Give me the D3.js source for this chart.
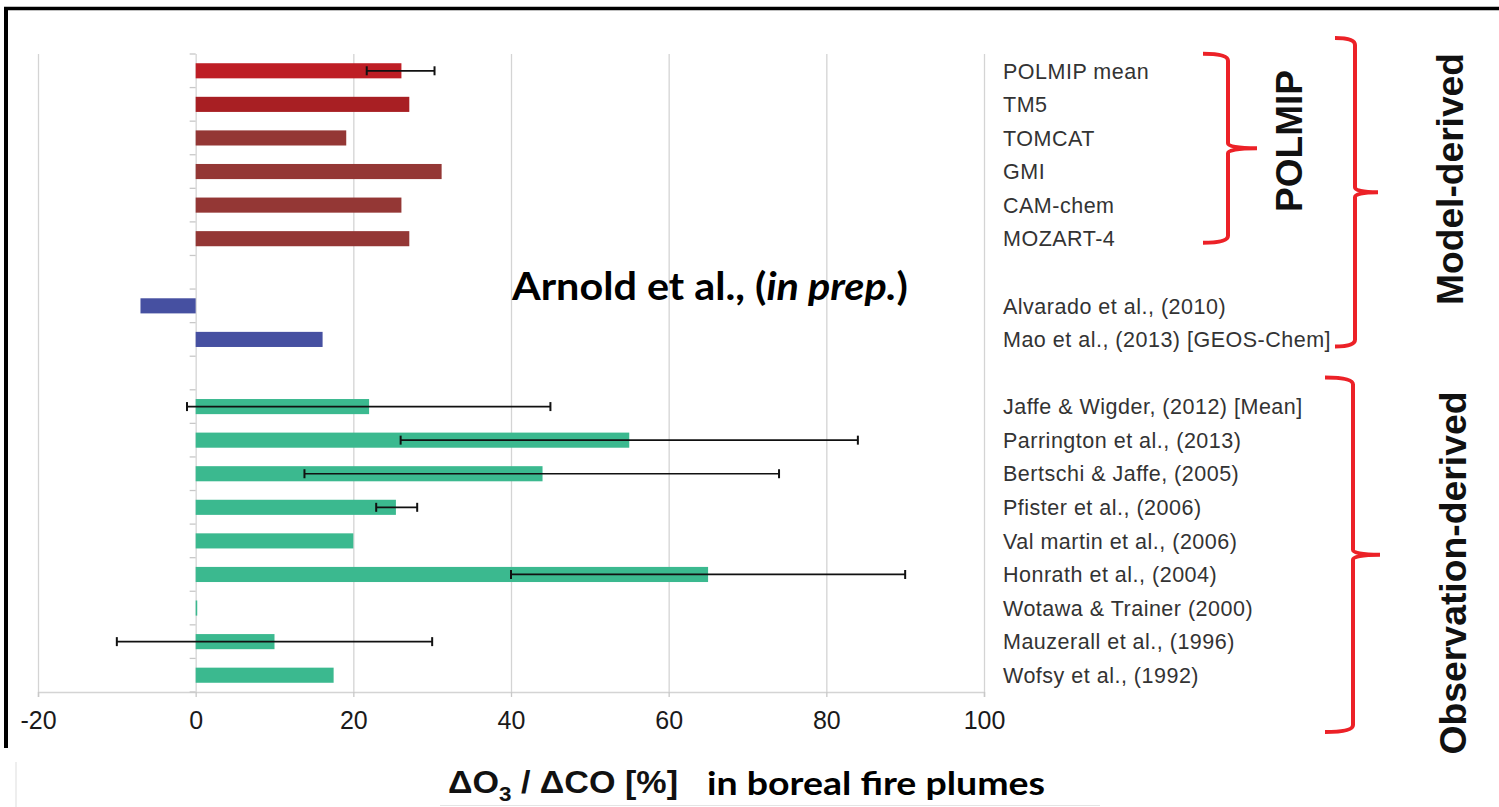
<!DOCTYPE html>
<html>
<head>
<meta charset="utf-8">
<script src="https://cdn.jsdelivr.net/npm/d3@7"></script>
<style>
  body { margin: 0; background: #fff; }
  svg { display: block; }
</style>
</head>
<body>
<div id="chart-container"></div>
<script>
// rows top to bottom, "" = empty spacer row
const labels = [
  "POLMIP mean", "TM5", "TOMCAT", "GMI", "CAM-chem", "MOZART-4", "",
  "Alvarado et al., (2010)", "Mao et al., (2013) [GEOS-Chem]", "",
  "Jaffe & Wigder, (2012) [Mean]", "Parrington et al., (2013)", "Bertschi & Jaffe, (2005)",
  "Pfister et al., (2006)", "Val martin et al., (2006)", "Honrath et al., (2004)",
  "Wotawa & Trainer (2000)", "Mauzerall et al., (1996)", "Wofsy et al., (1992)"
];
const groups = [
  "mean", "tm5", "model", "model", "model", "model", "",
  "other", "other", "",
  "obs", "obs", "obs", "obs", "obs", "obs", "obs", "obs", "obs"
];
const values = [
  26.1, 27.1, 19.1, 31.2, 26.1, 27.1, null,
  -7.0, 16.1, null,
  22.0, 55.0, 44.0, 25.4, 20.0, 65.0, 0.2, 10.0, 17.5
];
const errLow = [
  21.7, null, null, null, null, null, null,
  null, null, null,
  -1.1, 26.0, 13.8, 22.9, null, 40.0, null, -10.0, null
];
const errHigh = [
  30.3, null, null, null, null, null, null,
  null, null, null,
  45.0, 84.0, 74.0, 28.1, null, 90.0, null, 30.0, null
];
const xTicks = [-20, 0, 20, 40, 60, 80, 100];

const colors = { mean: "#be1e25", tm5: "#a81f23", model: "#943735", other: "#4650a1", obs: "#3bb98f" };

const W = 1499, H = 807;
const plotLeft = 38, plotRight = 984, plotTop = 54, plotBottom = 692;

const svg = d3.select("#chart-container")
  .append("svg")
  .attr("width", W)
  .attr("height", H);

const x = d3.scaleLinear().domain([-20, 100]).range([plotLeft, plotRight]);
const y = d3.scaleBand().domain(d3.range(labels.length)).range([plotTop, plotBottom]).padding(0);
const barH = y.bandwidth() * 0.45;
const cy = i => y(i) + y.bandwidth() / 2;

// frame
svg.append("line").attr("x1", 4).attr("x2", W).attr("y1", 8.5).attr("y2", 8.5)
  .attr("stroke", "#000").attr("stroke-width", 3.5);
svg.append("line").attr("x1", 6).attr("x2", 6).attr("y1", 7).attr("y2", 748)
  .attr("stroke", "#000").attr("stroke-width", 4);
// faint leftovers at the bottom
svg.append("line").attr("x1", 16).attr("x2", 16).attr("y1", 762).attr("y2", H)
  .attr("stroke", "#ddd").attr("stroke-width", 1);
svg.append("line").attr("x1", 440).attr("x2", 1100).attr("y1", 805.5).attr("y2", 805.5)
  .attr("stroke", "#e4e4e4").attr("stroke-width", 1);

// gridlines
const grid = svg.append("g")
  .attr("transform", `translate(0, ${plotBottom})`)
  .call(d3.axisBottom(x).tickValues(xTicks).tickSize(-(plotBottom - plotTop)).tickFormat(""));
grid.select(".domain").remove();
grid.selectAll("line").attr("stroke", "#d4d4d4").attr("stroke-width", 1.3);

// x axis
const xAxis = svg.append("g")
  .attr("transform", `translate(0, ${plotBottom})`)
  .call(d3.axisBottom(x).tickValues(xTicks).tickSize(5).tickPadding(14).tickFormat(d => String(d)));
xAxis.select(".domain").attr("stroke", "#d4d4d4").attr("stroke-width", 1.5);
xAxis.selectAll("line").attr("stroke", "#c8c8c8").attr("stroke-width", 1.3);
xAxis.selectAll("text")
  .attr("font-family", "Liberation Sans, Arial, sans-serif")
  .attr("font-size", 25)
  .attr("fill", "#1a1a1a");

// row boundary ticks on the zero line
svg.append("g").selectAll("line")
  .data(d3.range(labels.length + 1))
  .join("line")
  .attr("x1", x(0) - 6).attr("x2", x(0))
  .attr("y1", i => plotTop + i * y.step())
  .attr("y2", i => plotTop + i * y.step())
  .attr("stroke", "#c8c8c8").attr("stroke-width", 1.3);

// bars
const rows = labels.map((l, i) => ({ i, label: l, group: groups[i], value: values[i], lo: errLow[i], hi: errHigh[i] }));

svg.append("g").selectAll("rect")
  .data(rows.filter(d => d.value != null))
  .join("rect")
  .attr("x", d => x(Math.min(0, d.value)))
  .attr("y", d => cy(d.i) - barH / 2)
  .attr("width", d => Math.abs(x(d.value) - x(0)))
  .attr("height", barH)
  .attr("fill", d => colors[d.group]);

// error bars
const eb = svg.append("g").selectAll("g")
  .data(rows.filter(d => d.lo != null))
  .join("g");
eb.append("line")
  .attr("x1", d => x(d.lo)).attr("x2", d => x(d.hi))
  .attr("y1", d => cy(d.i)).attr("y2", d => cy(d.i))
  .attr("stroke", "#111").attr("stroke-width", 1.7);
eb.selectAll("line.cap")
  .data(d => [[d.lo, d.i], [d.hi, d.i]])
  .join("line")
  .attr("class", "cap")
  .attr("x1", d => x(d[0])).attr("x2", d => x(d[0]))
  .attr("y1", d => cy(d[1]) - 4.5).attr("y2", d => cy(d[1]) + 4.5)
  .attr("stroke", "#111").attr("stroke-width", 2);

// category labels
svg.append("g").selectAll("text")
  .data(rows.filter(d => d.label))
  .join("text")
  .attr("x", 1003)
  .attr("y", d => cy(d.i))
  .attr("dy", "0.36em")
  .attr("font-family", "Liberation Sans, Arial, sans-serif")
  .attr("font-size", 21.5)
  .attr("letter-spacing", 0.5)
  .attr("fill", "#333")
  .text(d => d.label);

// annotation
const ann = svg.append("text")
  .attr("x", 512).attr("y", 300)
  .attr("font-family", "Lato, sans-serif")
  .attr("font-weight", "bold")
  .attr("font-size", 39)
  .attr("fill", "#000")
  .attr("textLength", 396)
  .attr("lengthAdjust", "spacingAndGlyphs");
ann.append("tspan").text("Arnold et al., (");
ann.append("tspan").attr("font-style", "italic").text("in prep.");
ann.append("tspan").text(")");

// brackets
function brace(x0, xv, xTip, top, bot) {
  const mid = (top + bot) / 2;
  const p = d3.path();
  p.moveTo(x0, top);
  p.quadraticCurveTo(xv, top, xv, top + 7);
  p.lineTo(xv, mid - 5);
  p.quadraticCurveTo(xv, mid, xTip, mid);
  p.quadraticCurveTo(xv, mid, xv, mid + 5);
  p.lineTo(xv, bot - 7);
  p.quadraticCurveTo(xv, bot, x0, bot);
  return p.toString();
}
const braces = [
  [1203, 1228, 1257, cy(0) - 17, cy(5) + 4],
  [1335, 1355, 1378, 38, cy(8) + 7],
  [1325, 1353, 1380, cy(10) - 29, 732]
];
svg.append("g").selectAll("path")
  .data(braces)
  .join("path")
  .attr("d", d => brace(...d))
  .attr("fill", "none")
  .attr("stroke", "#ec2127")
  .attr("stroke-width", 4);

// rotated group titles
const side = [
  { text: "POLMIP", x: 1302, y: 141, len: 142 },
  { text: "Model-derived", x: 1463, y: 179, len: 252 },
  { text: "Observation-derived", x: 1466, y: 573, len: 363 }
];
svg.append("g").selectAll("text")
  .data(side)
  .join("text")
  .attr("transform", d => `translate(${d.x}, ${d.y}) rotate(-90)`)
  .attr("text-anchor", "middle")
  .attr("font-family", "Liberation Sans, Arial, sans-serif")
  .attr("font-weight", "bold")
  .attr("font-size", 37)
  .attr("fill", "#111")
  .attr("textLength", d => d.len)
  .attr("lengthAdjust", "spacingAndGlyphs")
  .text(d => d.text);

// x axis title
const t1 = svg.append("text")
  .attr("x", 448).attr("y", 793)
  .attr("font-family", "Liberation Sans, Arial, sans-serif")
  .attr("font-weight", "bold")
  .attr("font-size", 32)
  .attr("fill", "#111")
  .attr("textLength", 230)
  .attr("lengthAdjust", "spacingAndGlyphs");
t1.append("tspan").text("ΔO");
t1.append("tspan").attr("font-size", 21).attr("dy", 8).text("3");
t1.append("tspan").attr("dy", -8).text(" / ΔCO [%]");

svg.append("text")
  .attr("x", 707).attr("y", 795)
  .attr("font-family", "Lato, sans-serif")
  .attr("font-weight", "bold")
  .attr("font-size", 32)
  .attr("fill", "#000")
  .attr("textLength", 338)
  .attr("lengthAdjust", "spacingAndGlyphs")
  .text("in boreal fire plumes");
</script>
</body>
</html>
